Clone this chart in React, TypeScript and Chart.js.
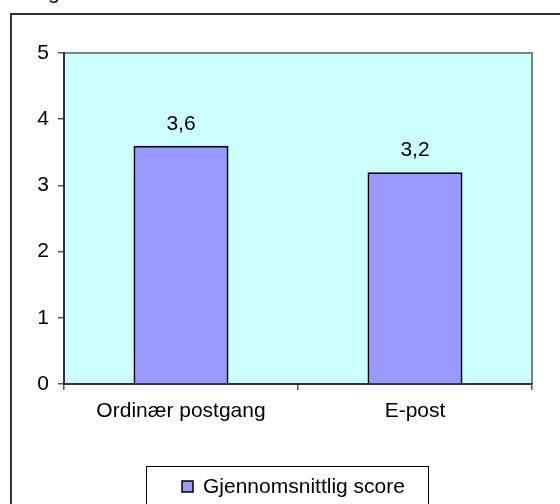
import { useEffect, useRef } from "react";
import { Chart, registerables } from "chart.js";

Chart.register(...registerables);

const categories = ["Ordinær postgang", "E-post"];
const scores = [3.6, 3.2];
const seriesName = "Gjennomsnittlig score";
const yMin = 0;
const yMax = 5;

const FONT = "'Liberation Sans', Arial, sans-serif";
const FS = 21;

const fmt = (v: number) => String(v).replace(".", ",");

const decor = {
  id: "decor",
  beforeDraw(chart: any) {
    const { ctx, chartArea: a } = chart;
    ctx.save();
    ctx.fillStyle = "#ffffff";
    ctx.fillRect(0, 0, chart.width, chart.height);
    ctx.strokeStyle = "#333333";
    ctx.lineWidth = 2;
    ctx.strokeRect(11, 14, 600, 600);
    ctx.fillStyle = "#CCFFFF";
    ctx.fillRect(a.left, a.top, a.right - a.left, a.bottom - a.top);
    ctx.strokeStyle = "#808080";
    ctx.lineWidth = 2;
    ctx.beginPath();
    ctx.moveTo(a.left, a.top);
    ctx.lineTo(a.right, a.top);
    ctx.lineTo(a.right, a.bottom);
    ctx.stroke();
    // partial title glyph cut at top
    ctx.fillStyle = "#000";
    ctx.font = `${FS}px ${FONT}`;
    ctx.textAlign = "left";
    ctx.textBaseline = "alphabetic";
    ctx.fillText("g", 48, -1);
    ctx.restore();
  },
  afterDatasetsDraw(chart: any) {
    const { ctx } = chart;
    const meta = chart.getDatasetMeta(0);
    ctx.save();
    ctx.fillStyle = "#000";
    ctx.font = `${FS}px ${FONT}`;
    ctx.textAlign = "center";
    ctx.textBaseline = "alphabetic";
    meta.data.forEach((bar: any, i: number) => {
      ctx.fillText(fmt(scores[i]), bar.x, bar.y - 16);
    });
    // legend
    ctx.fillStyle = "#ffffff";
    ctx.fillRect(146, 466, 282, 60);
    ctx.strokeStyle = "#000";
    ctx.lineWidth = 1;
    ctx.strokeRect(146.5, 466.5, 282, 60);
    ctx.fillStyle = "#9999FF";
    ctx.fillRect(182, 481, 11, 11);
    ctx.strokeStyle = "#000";
    ctx.lineWidth = 1.5;
    ctx.strokeRect(182, 481, 11, 11);
    ctx.fillStyle = "#000";
    ctx.textAlign = "left";
    ctx.textBaseline = "middle";
    ctx.fillText(seriesName, 203, 487);
    ctx.restore();
  },
};

export default function App() {
  const ref = useRef<HTMLCanvasElement | null>(null);
  useEffect(() => {
    if (!ref.current) return;
    const chart = new Chart(ref.current, {
      type: "bar",
      data: {
        labels: categories,
        datasets: [
          {
            label: seriesName,
            data: scores,
            backgroundColor: "#9999FF",
            borderColor: "#000000",
            borderWidth: 2,
            barPercentage: 0.406,
            categoryPercentage: 1,
          },
        ],
      },
      options: {
        animation: false,
        responsive: false,
        layout: { padding: { left: 34, right: 28, top: 53, bottom: 70 } },
        plugins: { legend: { display: false }, tooltip: { enabled: false } },
        scales: {
          x: {
            grid: {
              offset: true,
              drawOnChartArea: false,
              drawTicks: true,
              tickLength: 6,
              color: "#555555",
              lineWidth: 1.5,
            },
            border: { color: "#333333", width: 2 },
            ticks: {
              color: "#000",
              font: { family: FONT, size: FS },
              padding: 9,
              maxRotation: 0,
            },
            afterFit: (s: any) => {
              s.height = 50;
            },
          },
          y: {
            min: yMin,
            max: yMax,
            grid: {
              drawOnChartArea: false,
              tickLength: 6,
              color: "#555555",
              lineWidth: 1.5,
            },
            border: { color: "#333333", width: 2 },
            ticks: {
              stepSize: 1,
              color: "#000",
              font: { family: FONT, size: FS },
              padding: 9,
            },
            afterFit: (s: any) => {
              s.width = 30;
            },
          },
        },
      },
      plugins: [decor],
    });
    return () => chart.destroy();
  }, []);
  return (
    <div style={{ position: "absolute", left: 0, top: 0, width: 560, height: 504 }}>
      <canvas ref={ref} width={560} height={504} />
    </div>
  );
}
